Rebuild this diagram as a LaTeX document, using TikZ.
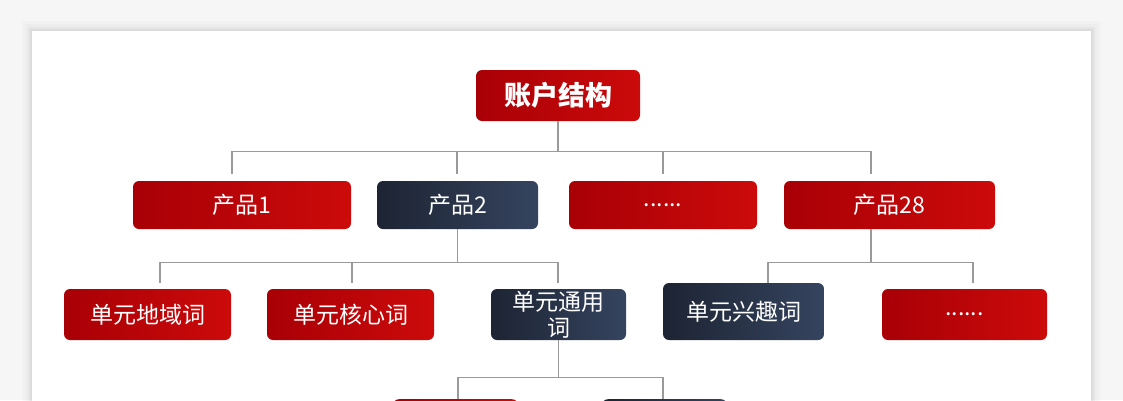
\documentclass[tikz,border=0pt]{standalone}
\usepackage{fontspec}
\setmainfont{Noto Sans CJK SC}
\usepackage{tikz}
\usetikzlibrary{positioning}
\usepackage{xcolor}

\definecolor{redL}{HTML}{A80006}
\definecolor{redR}{HTML}{CC0A0A}
\definecolor{navyL}{HTML}{1D2433}
\definecolor{navyR}{HTML}{35445F}
\definecolor{linkgray}{HTML}{9A9A9A}
\definecolor{pagegray}{HTML}{F6F6F6}

\tikzset{
  box/.style={rounded corners=6pt, text=white, inner sep=0pt, align=center,
    font=\fontsize{23}{23}\selectfont},
  redbox/.style={box, left color=redL, right color=redR},
  navybox/.style={box, left color=navyL, right color=navyR},
  link/.style={draw=linkgray, line width=1.4pt}
}

\begin{document}
\begin{tikzpicture}[x=1pt,y=-1pt]
\useasboundingbox (0,0) rectangle (1123,400);
\clip (0,0) rectangle (1123,400);

% page and card
\fill[pagegray] (0,0) rectangle (1123,400);
\foreach \s/\o in {10/0.015,7/0.02,4/0.03,2/0.04}
  \fill[black,opacity=\o] (32-\s,31-\s) rectangle (1091+\s,420);
\fill[white] (32,31) rectangle (1091,420);

% top
\node[redbox, minimum width=164pt, minimum height=51pt,
  font=\fontsize{27}{27}\selectfont\bfseries] (acct) at (558,95.5) {账户结构};

% products
\node[redbox, minimum width=218pt, minimum height=48pt] (p1) at (242,205) {产品1};
\node[navybox, minimum width=161pt, minimum height=48pt] (p2) at (457.5,205) {产品2};
\node[redbox, minimum width=188pt, minimum height=48pt] (pdots) at (663,205) {......};
\node[redbox, minimum width=211pt, minimum height=48pt] (p28) at (889.5,205) {产品28};

% words
\node[redbox, minimum width=167pt, minimum height=51pt] (w1) at (147.5,314.5) {单元地域词};
\node[redbox, minimum width=167pt, minimum height=51pt] (w2) at (350.5,314.5) {单元核心词};
\node[navybox, minimum width=135pt, minimum height=51pt] (w3) at (558.5,314.5) {单元通用\\[3pt]词};
\node[navybox, minimum width=161pt, minimum height=57pt] (w4) at (743.5,311.5) {单元兴趣词};
\node[redbox, minimum width=165pt, minimum height=51pt] (w5) at (964.5,314.5) {......};

% bottom (cut off)
\node[redbox, minimum width=125pt, minimum height=50pt, anchor=north] (b1) at (455.5,399) {};
\node[navybox, minimum width=125pt, minimum height=50pt, anchor=north] (b2) at (664.5,399) {};

% links acct -> products
\draw[link] (acct.south) -- ++(0,30) coordinate (bar0);
\coordinate (p1up) at ([xshift=-10pt,yshift=7pt]p1.north);
\coordinate (p2up) at ([xshift=-0.5pt,yshift=7pt]p2.north);
\coordinate (pdup) at ([yshift=7pt]pdots.north);
\coordinate (p28up) at ([xshift=-18.5pt,yshift=7pt]p28.north);
\draw[link] (bar0 -| p1up) -- (bar0 -| p28up);
\foreach \n in {p1up,p2up,pdup,p28up}
  \draw[link] (bar0 -| \n) -- (\n);

% links p2 -> words
\draw[link] (p2.south) -- ++(0,33) coordinate (bar1);
\coordinate (w1up) at ([xshift=12.5pt,yshift=6pt]w1.north);
\coordinate (w2up) at ([xshift=1.5pt,yshift=6pt]w2.north);
\coordinate (w3up) at ([xshift=-0.5pt,yshift=6pt]w3.north);
\draw[link] (bar1 -| w1up) -- (bar1 -| w3up);
\foreach \n in {w1up,w2up,w3up}
  \draw[link] (bar1 -| \n) -- (\n);

% links p28 -> words
\draw[link] ([xshift=-18.5pt]p28.south) -- ++(0,33) coordinate (bar2);
\coordinate (w4up) at ([xshift=24.5pt]w4.north);
\coordinate (w5up) at ([xshift=8.5pt,yshift=6pt]w5.north);
\draw[link] (bar2 -| w4up) -- (bar2 -| w5up);
\foreach \n in {w4up,w5up}
  \draw[link] (bar2 -| \n) -- (\n);

% links w3 -> bottom
\draw[link] (w3.south) -- ++(0,37) coordinate (bar3);
\coordinate (b1up) at ([xshift=2.5pt]b1.north);
\coordinate (b2up) at ([xshift=-1.5pt]b2.north);
\draw[link] (bar3 -| b1up) -- (bar3 -| b2up);
\foreach \n in {b1up,b2up}
  \draw[link] (bar3 -| \n) -- (\n);

\end{tikzpicture}
\end{document}
